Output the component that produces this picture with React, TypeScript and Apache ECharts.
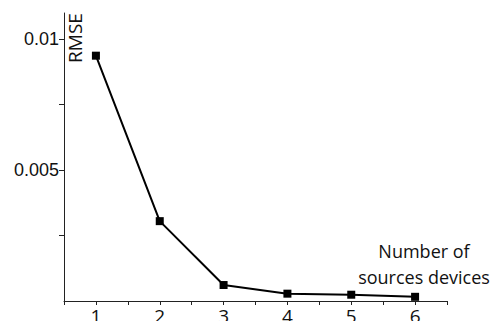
import React, { useEffect, useRef } from "react";
import * as echarts from "echarts";

const devices = [1, 2, 3, 4, 5, 6];
const rmse = [0.00937, 0.00305, 0.00061, 0.00028, 0.00024, 0.00016];
const yLabelValues = [0.005, 0.01];
const yTickValues = [0.0025, 0.005, 0.0075, 0.01];
const xLabelValues = [1, 2, 3, 4, 5, 6];
const xTickValues = [0.5, 1, 1.5, 2, 2.5, 3, 3.5, 4, 4.5, 5, 5.5, 6, 6.5];

export default function App() {
  const ref = useRef<HTMLDivElement>(null);
  useEffect(() => {
    const chart = echarts.init(ref.current!, null, { renderer: "svg" });
    chart.setOption({
      animation: false,
      grid: { left: 64, right: 43, top: 13, bottom: 20, containLabel: false, outerBoundsMode: "none" },
      xAxis: {
        type: "value",
        min: 0.5,
        max: 6.5,
        splitLine: { show: false },
        axisLine: { show: true, lineStyle: { color: "#222", width: 1 } },
        axisTick: { show: true, customValues: xTickValues, length: 4, lineStyle: { color: "#222" } },
        axisLabel: {
          customValues: xLabelValues,
          fontFamily: "Open Sans",
          fontSize: 19,
          color: "#111",
          margin: 5,
        },
      },
      yAxis: {
        type: "value",
        min: 0,
        max: 0.011,
        splitLine: { show: false },
        axisLine: { show: true, lineStyle: { color: "#222", width: 1 } },
        axisTick: { show: true, customValues: yTickValues, length: 5, lineStyle: { color: "#222" } },
        axisLabel: {
          customValues: yLabelValues,
          fontFamily: "Liberation Sans",
          fontSize: 18,
          color: "#111",
          margin: 5,
          formatter: (v: number) => String(Number(v.toFixed(4))),
        },
      },
      series: [
        {
          type: "line",
          data: devices.map((d, i) => [d, rmse[i]]),
          symbol: "rect",
          symbolSize: 8,
          lineStyle: { color: "#000", width: 2 },
          itemStyle: { color: "#000" },
        },
      ],
      graphic: [
        {
          type: "text",
          x: 75,
          y: 38,
          rotation: Math.PI / 2,
          style: {
            text: "RMSE",
            fontFamily: "Open Sans",
            fontSize: 19,
            fill: "#111",
            align: "center",
            verticalAlign: "middle",
          },
        },
        {
          type: "text",
          x: 424,
          y: 238,
          style: {
            text: "Number of\nsources devices",
            fontFamily: "Open Sans",
            fontSize: 18,
            lineHeight: 26,
            fill: "#111",
            align: "center",
            verticalAlign: "top",
          },
        },
      ],
    });
    return () => chart.dispose();
  }, []);
  return <div ref={ref} style={{ width: 490, height: 321, position: "absolute", left: 0, top: 0 }} />;
}
